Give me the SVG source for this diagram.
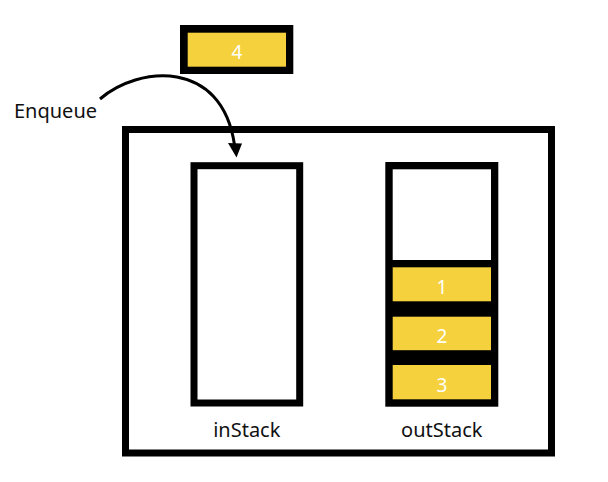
<svg xmlns="http://www.w3.org/2000/svg" width="608" height="482" viewBox="0 0 608 482">
<style>
.box{fill:#fff;stroke:#000;stroke-width:7}
.item{fill:#F4D13D}
.num{font-family:"Noto Sans","Open Sans",sans-serif;font-size:19px;fill:#fff;text-anchor:middle}
.lbl{font-family:"Noto Sans","Open Sans",sans-serif;font-size:20px;fill:#111;text-anchor:middle}
</style>
<rect width="608" height="482" fill="#fff"/>
<g id="queue"><rect class="box" x="125.5" y="129.5" width="426" height="323.5"/></g>
<g id="inStack">
<rect class="box" x="194" y="165.7" width="105.7" height="237.3"/>
<text class="lbl" x="246.8" y="437">inStack</text>
</g>
<g id="outStack">
<rect x="385.3" y="162" width="113" height="244.7" fill="#000"/>
<rect x="392.7" y="169.3" width="98.3" height="90.7" fill="#fff"/>
<text class="lbl" x="441.8" y="437">outStack</text>
</g>
<g id="item1"><rect class="item" x="392.7" y="267.3" width="98.3" height="34"/><text class="num" x="442" y="294">1</text></g>
<g id="item2"><rect class="item" x="392.7" y="316.7" width="98.3" height="33.5"/><text class="num" x="442" y="343.3">2</text></g>
<g id="item3"><rect class="item" x="392.7" y="365" width="98.3" height="34.3"/><text class="num" x="442" y="392">3</text></g>
<g id="item4"><rect x="180" y="25" width="113.3" height="49" fill="#000"/><rect class="item" x="187.7" y="32.7" width="98.3" height="34"/><text class="num" x="237" y="59.3">4</text></g>
<g id="enqueue"><text class="lbl" x="55.5" y="118" fill="#111">Enqueue</text></g>
<g id="connectors">
<path d="M100,99 C138,66 222,58 234.5,145" fill="none" stroke="#000" stroke-width="3"/>
<polygon points="236.5,157.5 228,143 242,143.5" fill="#000"/>
</g>
</svg>
